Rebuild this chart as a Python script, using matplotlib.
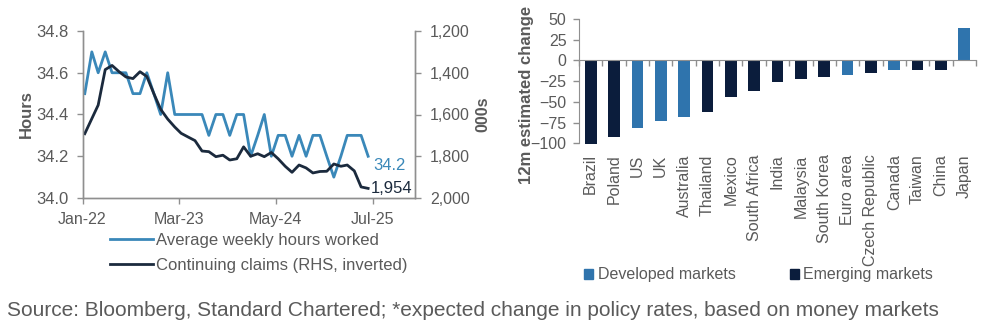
import matplotlib
matplotlib.use("Agg")
import matplotlib.pyplot as plt
import matplotlib.dates as mdates
from matplotlib.patches import Patch
import numpy as np
import pandas as pd

plt.rcParams['font.family'] = ['Liberation Sans', 'DejaVu Sans']

# ---- Left panel: US labour market (monthly, Jan-22 to Jun-25) ----
hours = [34.5, 34.7, 34.6, 34.7, 34.6, 34.6, 34.6, 34.5, 34.5, 34.6,
         34.5, 34.4, 34.6, 34.4, 34.4, 34.4, 34.4, 34.4, 34.3, 34.4,
         34.4, 34.3, 34.4, 34.4, 34.2, 34.3, 34.4, 34.2, 34.3, 34.3,
         34.2, 34.3, 34.2, 34.3, 34.3, 34.2, 34.1, 34.2, 34.3, 34.3,
         34.3, 34.2]
claims = [1692, 1620, 1555, 1385, 1365, 1395, 1420, 1428, 1395, 1418,
          1500, 1575, 1622, 1660, 1690, 1708, 1725, 1775, 1778, 1802,
          1795, 1818, 1812, 1755, 1800, 1788, 1802, 1782, 1812, 1848,
          1877, 1842, 1856, 1880, 1873, 1872, 1837, 1848, 1842, 1870,
          1947, 1954]
month_start = "2022-01-01"
line_labels = ["Average weekly hours worked", "Continuing claims (RHS, inverted)"]
date_ticks = ["2022-01-01", "2023-03-01", "2024-05-01", "2025-07-01"]

# ---- Right panel: expected policy-rate change over 12m ----
countries = ["Brazil", "Poland", "US", "UK", "Australia", "Thailand", "Mexico",
             "South Africa", "India", "Malaysia", "South Korea", "Euro area",
             "Czech Republic", "Canada", "Taiwan", "China", "Japan"]
rate_change = [-101, -93, -82, -73.5, -68.5, -62.5, -44, -37, -26, -22.5,
               -20.5, -18, -15, -12, -12, -12, 39]
market_group = ["EM", "EM", "DM", "DM", "DM", "EM", "EM", "EM", "EM", "EM",
                "EM", "DM", "EM", "DM", "EM", "EM", "DM"]
group_names = {"DM": "Developed markets", "EM": "Emerging markets"}

source_text = ("Source: Bloomberg, Standard Chartered; *expected change in policy rates, "
               "based on money markets")

TXT = "#5a5a5a"
SPINE = "#8f8f8f"
C_HOURS = "#3a88b9"
C_CLAIMS = "#1b2a3d"
C_DM = "#2f74ad"
C_EM = "#0b1d3c"
FS = 11.5

fig = plt.figure(figsize=(9.9, 3.3), dpi=100)

# Left chart
L0, R0 = 82.5, 414.5
ax = fig.add_axes([L0 / 990, 1 - 198 / 330, (R0 - L0) / 990, (198 - 31) / 330])
dates = pd.date_range(month_start, periods=len(hours), freq="MS") + pd.Timedelta(days=10)
l1, = ax.plot(dates, hours, color=C_HOURS, lw=2.0)
ax.set_ylim(34.0, 34.8)
ax.set_yticks(np.arange(34.0, 34.81, 0.2))
ax.yaxis.set_major_formatter(matplotlib.ticker.FormatStrFormatter("%.1f"))
ax.set_xlim(pd.Timestamp("2022-01-01"), pd.Timestamp("2026-01-01"))
ax.set_xticks(pd.to_datetime(date_ticks))
ax.xaxis.set_major_formatter(mdates.DateFormatter("%b-%y"))
ax.set_ylabel("Hours", fontsize=12, fontweight="bold", color=TXT, labelpad=2)

ax2 = ax.twinx()
l2, = ax2.plot(dates, claims, color=C_CLAIMS, lw=2.0)
ax2.set_ylim(2000, 1200)
ax2.set_yticks(np.arange(1200, 2001, 200))
ax2.yaxis.set_major_formatter(matplotlib.ticker.FuncFormatter(lambda v, p: f"{v:,.0f}"))
ax2.set_ylabel("000s", fontsize=11.5, fontweight="bold", color=TXT, labelpad=4)

for a in (ax, ax2):
    a.spines["top"].set_visible(False)
    for s in ("left", "right", "bottom"):
        a.spines[s].set_color(SPINE)
        a.spines[s].set_linewidth(1.0)
    a.tick_params(colors=SPINE, labelcolor=TXT, labelsize=FS, length=4, width=1, direction="out")
ax.tick_params(axis="y", pad=6, labelsize=12)
ax2.tick_params(axis="y", pad=7)
ax.tick_params(axis="x", pad=6)

ax.annotate(f"{hours[-1]:.1f}", (dates[-1], hours[-1]), xytext=(4, -7),
            textcoords="offset points", color=C_HOURS, fontsize=12, va="center", ha="left")
ax2.annotate(f"{claims[-1]:,.0f}", (dates[-1], claims[-1]), xytext=(2, 0),
             textcoords="offset points", color=C_CLAIMS, fontsize=12, va="center", ha="left")

fig.legend([l1, l2], line_labels, loc="upper left",
           bbox_to_anchor=(110 / 990, 1 - 233 / 330), frameon=False, fontsize=12,
           handlelength=2.55, handletextpad=0.2, labelspacing=0.6, borderpad=0,
           borderaxespad=0, labelcolor=TXT)

# Right chart
bx = fig.add_axes([579 / 990, 1 - 143.3 / 330, (976 - 579) / 990, (143.3 - 19) / 330])
xpos = np.arange(len(countries))
colors = [C_DM if g == "DM" else C_EM for g in market_group]
bx.bar(xpos, rate_change, width=0.5, color=colors, clip_on=False, zorder=2)
bx.set_xlim(-0.5, len(countries) - 0.5)
bx.set_ylim(-100, 50)
bx.set_yticks(np.arange(-100, 51, 25))
bx.set_ylabel("12m estimated change", fontsize=12, fontweight="bold", color=TXT)
bx.yaxis.set_label_coords((527 - 579) / 397, (143.3 - 95) / 124.3)
bx.yaxis.label.set_va("center")

bx.spines["top"].set_visible(False)
bx.spines["right"].set_visible(False)
bx.spines["left"].set_color(SPINE)
bx.spines["bottom"].set_color(SPINE)
bx.spines["bottom"].set_position(("data", 0))
bx.spines["bottom"].set_zorder(3)
bx.set_xticks(np.arange(-0.5, len(countries), 1.0))
bx.tick_params(axis="x", labelbottom=False, colors=SPINE, length=4, width=1, direction="out")
bx.tick_params(axis="y", colors=SPINE, labelcolor=TXT, labelsize=FS, length=4, width=1, pad=5)

sec = bx.secondary_xaxis("bottom")
sec.set_xticks(xpos, countries, rotation=90)
sec.spines["bottom"].set_visible(False)
sec.tick_params(length=0, pad=8, labelsize=FS, labelcolor=TXT)

handles = [Patch(color=C_DM), Patch(color=C_EM)]
fig.legend(handles, [group_names["DM"], group_names["EM"]], loc="center left",
           bbox_to_anchor=(584 / 990, 1 - 275 / 330), ncol=2, frameon=False, fontsize=FS,
           handlelength=0.55, handleheight=0.55, handletextpad=0.3, columnspacing=3.4,
           borderpad=0, borderaxespad=0, labelcolor=TXT)

fig.text(7 / 990, 1 - 310 / 330, source_text, fontsize=15, color=TXT, va="center", ha="left")

fig.savefig("out.png", dpi=100)
